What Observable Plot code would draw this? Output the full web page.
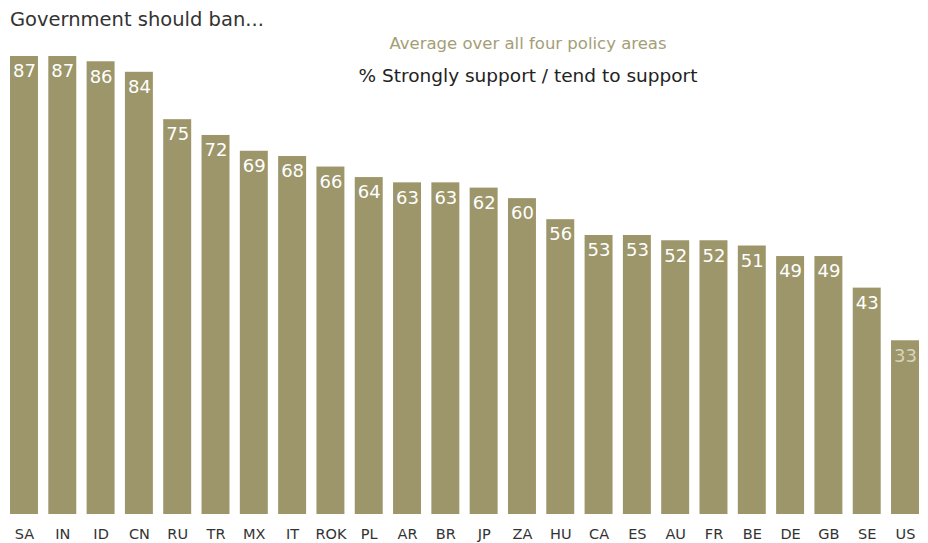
<!DOCTYPE html>
<html>
<head>
<meta charset="utf-8">
<script src="https://cdn.jsdelivr.net/npm/d3@7"></script>
<script src="https://cdn.jsdelivr.net/npm/@observablehq/plot@0.6"></script>
<style>
  body { margin: 0; background: #fff; }
  #wrap { position: relative; width: 928px; height: 543px; font-family: "DejaVu Sans", sans-serif; }
  .t { position: absolute; white-space: nowrap; }
  #title { left: 10px; top: 8px; font-size: 19.5px; color: #333; }
  #sub1 { left: 528px; top: 34px; transform: translateX(-50%); font-size: 16.5px; color: #a49e76; }
  #sub2 { left: 528px; top: 65px; transform: translateX(-50%); font-size: 18.5px; color: #222; }
</style>
</head>
<body>
<div id="wrap">
  <div id="chart"></div>
  <div class="t" id="title">Government should ban...</div>
  <div class="t" id="sub1">Average over all four policy areas</div>
  <div class="t" id="sub2">% Strongly support / tend to support</div>
</div>
<script>
const countries = ["SA","IN","ID","CN","RU","TR","MX","IT","ROK","PL","AR","BR","JP","ZA","HU","CA","ES","AU","FR","BE","DE","GB","SE","US"];
const values = [87,87,86,84,75,72,69,68,66,64,63,63,62,60,56,53,53,52,52,51,49,49,43,33];

const data = countries.map((c, i) => ({country: c, value: values[i]}));
const barColor = "#9d966a";

const chart = Plot.plot({
  width: 928,
  height: 543,
  marginLeft: 10,
  marginRight: 9,
  marginTop: 0,
  marginBottom: 29,
  style: {fontFamily: "'DejaVu Sans', sans-serif", background: "transparent"},
  x: {domain: countries, paddingInner: 0.27, paddingOuter: 0, round: false, label: null},
  y: {domain: [0, 87], range: [514, 56], axis: null},
  marks: [
    Plot.barY(data, {x: "country", y: "value", fill: barColor}),
    Plot.text(data, {
      x: "country", y: "value", text: d => String(d.value),
      lineAnchor: "top", dy: 8, fontSize: 18,
      fill: d => d.country === "US" ? "#d8d3bb" : "#ffffff"
    }),
    Plot.axisX({tickSize: 0, tickPadding: 14, fontSize: 14.5, color: "#333", label: null})
  ]
});
document.getElementById("chart").appendChild(chart);
</script>
</body>
</html>
